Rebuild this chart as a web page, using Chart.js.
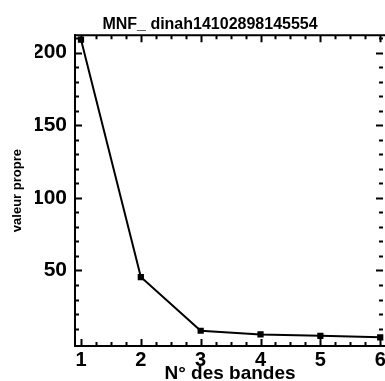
<!DOCTYPE html>
<html>
<head>
<meta charset="utf-8">
<title>MNF valeurs propres</title>
<script src="https://cdn.jsdelivr.net/npm/chart.js"></script>
<style>
  html, body { margin: 0; padding: 0; background: #fff; }
  canvas { display: block; }
</style>
</head>
<body>
<canvas id="myChart" width="385" height="381"></canvas>
<script>
// band numbers and eigenvalues
const bandes = [1, 2, 3, 4, 5, 6];
const valeurs = [209, 45.5, 8.5, 6, 5, 4];

// labelled ticks
const xTicks = [1, 2, 3, 4, 5, 6];
const yTicks = [50, 100, 150, 200];

const FONT = "'Liberation Sans', Arial, sans-serif";

// inward tick marks on all four sides + top/right frame
const frameTicks = {
  id: "frameTicks",
  afterDatasetsDraw(chart) {
    const { ctx, chartArea: a, scales } = chart;
    const x = scales.x, y = scales.y;
    ctx.save();
    ctx.strokeStyle = "#000";
    ctx.lineWidth = 2;
    ctx.beginPath();
    ctx.moveTo(a.left - 1, a.top);
    ctx.lineTo(a.right + 2, a.top);
    ctx.moveTo(a.right + 1, a.top);
    ctx.lineTo(a.right + 1, a.bottom);
    ctx.stroke();

    // x: major every 1, minor every 0.25
    for (let v = 1; v <= 6.001; v += 0.25) {
      const px = Math.round(x.getPixelForValue(v)) + 0.5;
      const len = Math.abs(v - Math.round(v)) < 1e-6 ? 7 : 4;
      ctx.beginPath();
      ctx.moveTo(px, a.bottom);
      ctx.lineTo(px, a.bottom - len);
      ctx.moveTo(px, a.top);
      ctx.lineTo(px, a.top + len);
      ctx.stroke();
    }
    // y: major every 50, minor every 10
    for (let v = 10; v <= 210; v += 10) {
      const py = Math.round(y.getPixelForValue(v)) + 0.5;
      const len = v % 50 === 0 ? 7 : 4;
      ctx.beginPath();
      ctx.moveTo(a.left, py);
      ctx.lineTo(a.left + len, py);
      ctx.moveTo(a.right - 2, py);
      ctx.lineTo(a.right - 2 - len, py);
      ctx.stroke();
    }
    ctx.restore();
  },
};

const data = {
  labels: bandes,
  datasets: [
    {
      data: bandes.map((b, i) => ({ x: b, y: valeurs[i] })),
      borderColor: "#000",
      backgroundColor: "#000",
      borderWidth: 2,
      pointStyle: "rect",
      pointRadius: 3,
      tension: 0,
      clip: false,
    },
  ],
};

const config = {
  type: "line",
  data: data,
  options: {
    responsive: false,
    animation: false,
    layout: {
      autoPadding: false,
      padding: { left: 35, right: 0, top: 0, bottom: 0 },
    },
    plugins: {
      legend: { display: false },
      tooltip: { enabled: false },
      title: {
        display: true,
        text: "MNF_ dinah14102898145554",
        color: "#000",
        font: { family: FONT, size: 16, weight: "bold" },
        padding: { top: 15, bottom: 1 },
      },
    },
    scales: {
      x: {
        type: "linear",
        min: 0.9,
        max: 6.08,
        afterBuildTicks: (s) => { s.ticks = xTicks.map((v) => ({ value: v })); },
        afterFit: (s) => {
          s.height = 35;
          // let the frame run to the canvas edge, label "6" may overhang
          s.paddingLeft = 0;
          s.paddingRight = 0;
        },
        grid: { display: false, drawTicks: false },
        border: { display: true, color: "#000", width: 2 },
        ticks: {
          color: "#000",
          padding: 2,
          maxRotation: 0,
          autoSkip: false,
          font: { family: FONT, size: 20, weight: "bold" },
        },
        title: {
          display: true,
          text: "N° des bandes",
          color: "#000",
          font: { family: FONT, size: 19, weight: "bold" },
          padding: { top: 0, bottom: -4 },
        },
      },
      y: {
        min: -2,
        max: 212,
        afterBuildTicks: (s) => { s.ticks = yTicks.map((v) => ({ value: v })); },
        afterFit: (s) => { s.width = 40; },
        grid: { display: false, drawTicks: false },
        border: { display: true, color: "#000", width: 2 },
        ticks: {
          color: "#000",
          padding: 8,
          font: { family: FONT, size: 21, weight: "bold" },
        },
        title: {
          display: true,
          text: "valeur propre",
          color: "#000",
          font: { family: FONT, size: 13, weight: "bold" },
          padding: { top: -25, bottom: 0 },
        },
      },
    },
  },
  plugins: [frameTicks],
};

const myChart = new Chart(document.getElementById("myChart"), config);
</script>
</body>
</html>
